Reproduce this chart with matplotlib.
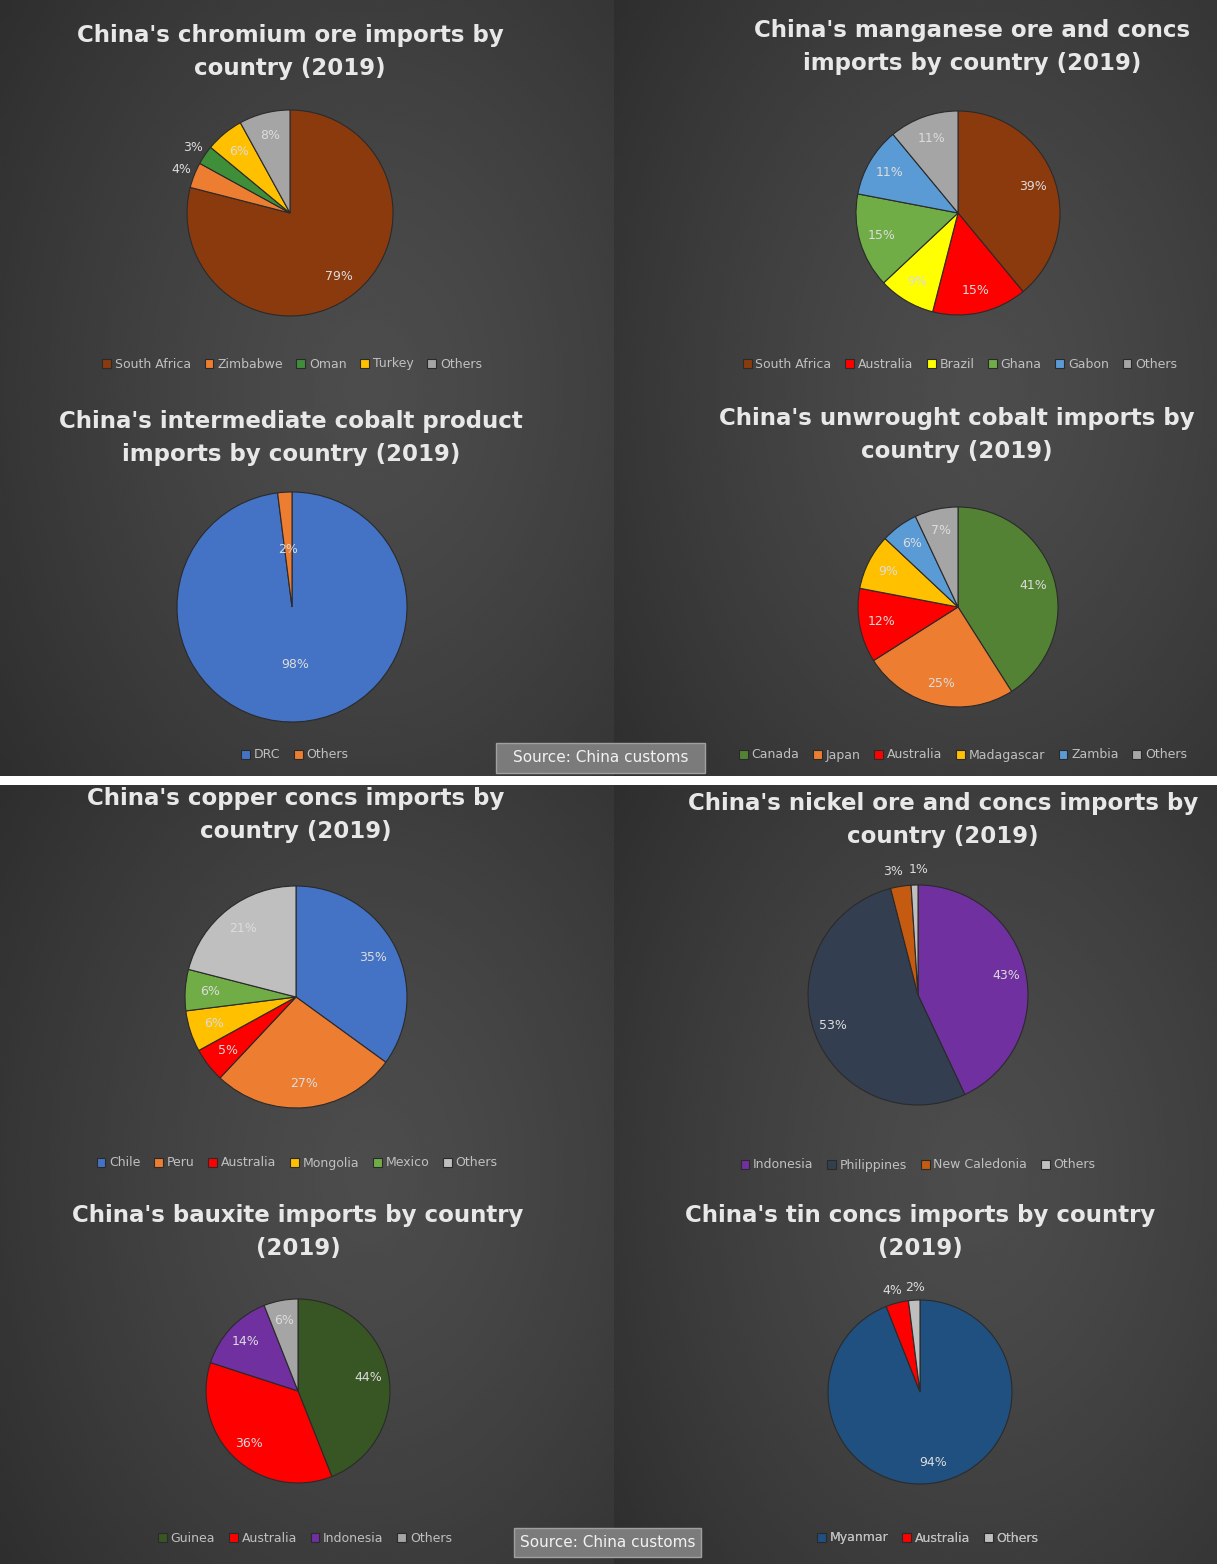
import numpy as np
import matplotlib.pyplot as plt
from matplotlib.patches import Rectangle

W, H = 1224, 1564

# ---- data (shares in %) ----
chrome_names = ['South Africa', 'Zimbabwe', 'Oman', 'Turkey', 'Others']
chrome_vals = [79, 4, 3, 6, 8]

mang_names = ['South Africa', 'Australia', 'Brazil', 'Ghana', 'Gabon', 'Others']
mang_vals = [39, 15, 9, 15, 11, 11]

cobint_names = ['DRC', 'Others']
cobint_vals = [98, 2]

cobalt_names = ['Canada', 'Japan', 'Australia', 'Madagascar', 'Zambia', 'Others']
cobalt_vals = [41, 25, 12, 9, 6, 7]

copper_names = ['Chile', 'Peru', 'Australia', 'Mongolia', 'Mexico', 'Others']
copper_vals = [35, 27, 5, 6, 6, 21]

nickel_names = ['Indonesia', 'Philippines', 'New Caledonia', 'Others']
nickel_vals = [43, 53, 3, 1]

bauxite_names = ['Guinea', 'Australia', 'Indonesia', 'Others']
bauxite_vals = [44, 36, 14, 6]

tin_names = ['Myanmar', 'Australia', 'Others']
tin_vals = [94, 4, 2]

source_text = 'Source: China customs'

fig = plt.figure(figsize=(W / 100, H / 100), dpi=100, facecolor='white')
ax = fig.add_axes([0, 0, 1, 1])
ax.axis('off')


def Y(y):
    # pixel row from the top -> data y
    return H - y


def background(x0, x1, y0, y1):
    gy, gx = np.mgrid[0:1:300j, 0:1:300j]
    d = np.sqrt(((gx - 0.6) / 0.8) ** 2 + ((gy - 0.5) / 0.9) ** 2)
    img = 0.30 - 0.13 * np.clip(d, 0, 1) ** 1.3
    ax.imshow(img, cmap='gray', vmin=0, vmax=1, extent=(x0, x1, Y(y1), Y(y0)),
              interpolation='bicubic', zorder=0, aspect='auto')


for (y0, y1) in [(0, 776), (785, 1564)]:
    background(0, 614, y0, y1)
    background(614, 1217, y0, y1)
ax.set_xlim(0, W)
ax.set_ylim(0, H)


def draw_pie(vals, names, colors, title, cx, cy, r, tx, ty, lx, ly,
             pctd=0.78, outside=(), nudge=None):
    wedges, _, autotexts = ax.pie(
        vals, colors=colors, startangle=90, counterclock=False,
        center=(cx, Y(cy)), radius=r, frame=True,
        autopct=lambda p: f'{p:.0f}%', pctdistance=pctd,
        textprops=dict(color='#dcdcdc', fontsize=9),
        wedgeprops=dict(edgecolor='#2a2a2a', linewidth=0.8))
    for w in wedges:
        w.set_zorder(2)
    for t in autotexts:
        t.set_zorder(3)
    nudge = nudge or {}
    for i in outside:
        w = wedges[i]
        ang = np.deg2rad((w.theta1 + w.theta2) / 2)
        autotexts[i].set_position((cx + 1.14 * r * np.cos(ang) + nudge.get(i, 0),
                                   Y(cy) + 1.14 * r * np.sin(ang)))
    ax.text(tx, Y(ty), title, ha='center', va='center', color='#e8e8e8',
            fontsize=16.5, fontweight='bold', linespacing=1.55, zorder=3)
    leg = ax.legend(wedges, names, loc='center', bbox_to_anchor=(lx, Y(ly)),
                    bbox_transform=ax.transData, ncol=len(names), frameon=False,
                    fontsize=9, labelcolor='#c0c0c0', handlelength=0.7,
                    handleheight=0.7, handletextpad=0.3, columnspacing=1.1,
                    borderpad=0)
    ax.add_artist(leg)


# top panel
draw_pie(chrome_vals, chrome_names,
         ['#8b3a0e', '#ed7d31', '#3f8f3a', '#ffc000', '#a5a5a5'],
         "China's chromium ore imports by\ncountry (2019)",
         290, 213, 103, 290, 52, 292, 364, outside=(1, 2))

draw_pie(mang_vals, mang_names,
         ['#8b3a0e', '#ff0000', '#ffff00', '#70ad47', '#5b9bd5', '#a5a5a5'],
         "China's manganese ore and concs\nimports by country (2019)",
         958, 213, 102, 972, 47, 960, 364)

draw_pie(cobint_vals, cobint_names, ['#4472c4', '#ed7d31'],
         "China's intermediate cobalt product\nimports by country (2019)",
         292, 607, 115, 291, 438, 295, 755, pctd=0.5)

draw_pie(cobalt_vals, cobalt_names,
         ['#548235', '#ed7d31', '#ff0000', '#ffc000', '#5b9bd5', '#a5a5a5'],
         "China's unwrought cobalt imports by\ncountry (2019)",
         958, 607, 100, 957, 435, 963, 755)

# bottom panel
draw_pie(copper_vals, copper_names,
         ['#4472c4', '#ed7d31', '#ff0000', '#ffc000', '#70ad47', '#bfbfbf'],
         "China's copper concs imports by\ncountry (2019)",
         296, 997, 111, 296, 815, 297, 1163)

draw_pie(nickel_vals, nickel_names,
         ['#7030a0', '#333f50', '#c55a11', '#bfbfbf'],
         "China's nickel ore and concs imports by\ncountry (2019)",
         918, 995, 110, 943, 820, 918, 1165, pctd=0.82, outside=(2, 3),
         nudge={2: -5, 3: 5})

draw_pie(bauxite_vals, bauxite_names,
         ['#375623', '#ff0000', '#7030a0', '#a5a5a5'],
         "China's bauxite imports by country\n(2019)",
         298, 1391, 92, 298, 1232, 305, 1538)

draw_pie(tin_vals, tin_names, ['#1f5080', '#ff0000', '#bfbfbf'],
         "China's tin concs imports by country\n(2019)",
         920, 1392, 92, 920, 1232, 928, 1538, outside=(1, 2),
         nudge={1: -2, 2: 2})

# source boxes
for x0, y0, w, h in [(496, 743, 209, 30), (514, 1528, 187, 29)]:
    ax.add_patch(Rectangle((x0, Y(y0 + h)), w, h, facecolor='#7b7b7b',
                           edgecolor='#a0a0a0', linewidth=1, zorder=3))
    ax.text(x0 + w / 2, Y(y0 + h / 2), source_text, ha='center', va='center',
            color='#f2f2f2', fontsize=11, zorder=4)

fig.savefig('out.png', dpi=100, facecolor='white')
